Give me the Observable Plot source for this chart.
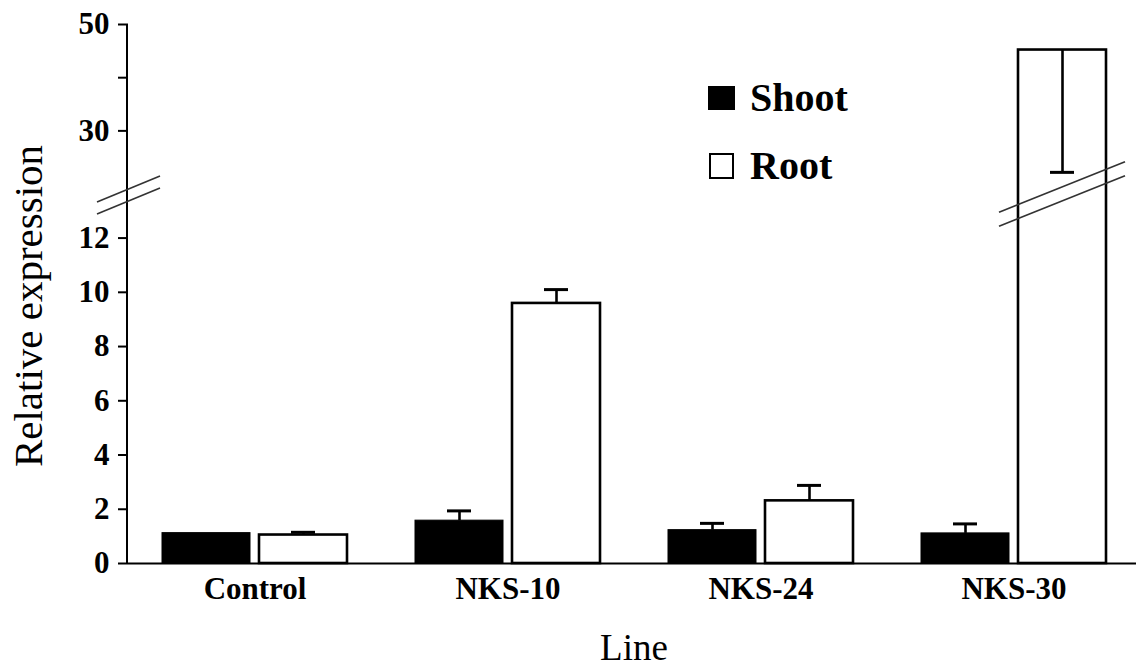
<!DOCTYPE html>
<html><head><meta charset="utf-8">
<script src="https://cdn.jsdelivr.net/npm/d3@7"></script>
<script src="https://cdn.jsdelivr.net/npm/@observablehq/plot@0.6"></script>
<style>
html,body{margin:0;padding:0;background:#fff;}
#chart{width:1136px;height:669px;position:relative;}
</style></head><body><div id="chart"></div>
<script>
// ---- data ----
const lines = ["Control", "NKS-10", "NKS-24", "NKS-30"];
const parts = ["Shoot", "Root"];
const shootValues = [1.12, 1.58, 1.23, 1.11];
const shootErrors = [0, 0.36, 0.25, 0.35];
const rootValues = [1.05, 9.59, 2.31, 45.2];
const rootErrors = [0.1, 0.51, 0.57, -23.0]; // NKS-30 error bar drawn downward
const yTicks = [0, 2, 4, 6, 8, 10, 12, 30, 40, 50];
const yLabeledTicks = [0, 2, 4, 6, 8, 10, 12, 30, 50];
const yBreak = [13.57, 17.85];
const yLabel = "Relative expression";
const xLabel = "Line";

const rows = lines.flatMap((line, i) => [
  {line, part: "Shoot", value: shootValues[i], err: shootErrors[i]},
  {line, part: "Root", value: rootValues[i], err: rootErrors[i]}
]);
const errRows = rows.filter(d => d.err !== 0);

const W = 1136, H = 669, ml = 127, mt = 24, mb = 106, breakPx = 195;
const font = "'Liberation Serif','Times New Roman',serif";

const plot = Plot.plot({
  width: W, height: H,
  marginLeft: ml, marginRight: 0, marginTop: mt, marginBottom: mb,
  style: {fontFamily: font, fontSize: "30px", color: "#000", background: "#fff", overflow: "visible"},
  fx: {domain: lines, range: [ml, ml + 4 * 253.4], padding: 0},
  x: {domain: parts, paddingInner: 0.093, paddingOuter: 0.35, axis: null},
  y: {type: "linear", domain: [0, yBreak[0], yBreak[1], 50], range: [H - mb, breakPx, breakPx, mt]},
  marks: [
    Plot.barY(rows.filter(d => d.part === "Shoot"), {fx: "line", x: "part", y: "value", fill: "#000", stroke: "#000", strokeWidth: 1}),
    Plot.barY(rows.filter(d => d.part === "Root"), {fx: "line", x: "part", y: "value", fill: "#fff", stroke: "#000", strokeWidth: 2.6}),
    Plot.ruleX(errRows, {fx: "line", x: "part", y1: "value", y2: d => d.value + d.err, strokeWidth: 2.6}),
    Plot.tickY(errRows, {fx: "line", x: "part", y: d => d.value + d.err, strokeWidth: 3, insetLeft: 32, insetRight: 32}),
    Plot.ruleY([0], {strokeWidth: 2}),
    Plot.axisY({ticks: yTicks, tickFormat: d => yLabeledTicks.includes(d) ? String(d) : "", tickSize: 10, tickPadding: 9, strokeWidth: 2, fontSize: 31, fontWeight: "bold", label: null}),
    Plot.axisFx({anchor: "bottom", tickSize: 0, tickPadding: 13, fontSize: 31, fontWeight: "bold", label: null})
  ]
});

// ---- decorations: axis line, axis breaks, legend, titles ----
const svg = d3.select(plot);
const ys = plot.scale("y"), fxs = plot.scale("fx"), xs = plot.scale("x");
const deco = svg.append("g").attr("fill", "none");
deco.append("line").attr("x1", ml).attr("x2", ml)
  .attr("y1", ys.apply(0)).attr("y2", ys.apply(50))
  .attr("stroke", "#000").attr("stroke-width", 2);

function breakMark(cx, cy, halfW, slope, gap) {
  for (const s of [-1, 1]) {
    deco.append("line")
      .attr("x1", cx - halfW).attr("y1", cy + slope * halfW + s * gap / 2)
      .attr("x2", cx + halfW).attr("y2", cy - slope * halfW + s * gap / 2)
      .attr("stroke", "#333").attr("stroke-width", 1.6);
  }
}
const cyBreak = ys.apply(yBreak[0]);
breakMark(ml + 1.5, cyBreak, 31.5, 0.413, 12);
const xStep = xs.apply("Root") - xs.apply("Shoot");
const barCx = fxs.apply("NKS-30") + fxs.bandwidth / 2 + xStep / 2;
breakMark(barCx, cyBreak - 1, 63, 0.40, 14);

// legend
const lg = svg.append("g").attr("text-anchor", "start");
lg.append("rect").attr("x", 708).attr("y", 86).attr("width", 27).attr("height", 24).attr("fill", "#000");
lg.append("rect").attr("x", 710).attr("y", 154).attr("width", 23).attr("height", 24).attr("fill", "#fff").attr("stroke", "#000").attr("stroke-width", 2);
lg.append("text").attr("x", 750).attr("y", 110.5).attr("text-anchor", "start").text(parts[0])
  .attr("font-size", 40).attr("font-weight", "bold").attr("font-family", font).attr("fill", "#000");
lg.append("text").attr("x", 750).attr("y", 178.5).attr("text-anchor", "start").text(parts[1])
  .attr("font-size", 40).attr("font-weight", "bold").attr("font-family", font).attr("fill", "#000");

// axis titles
svg.append("text").attr("transform", "translate(42,306) rotate(-90)").attr("text-anchor", "middle")
  .attr("font-size", 41).attr("font-family", font).attr("fill", "#000").text(yLabel);
svg.append("text").attr("x", 634).attr("y", 660).attr("text-anchor", "middle")
  .attr("font-size", 37).attr("font-family", font).attr("fill", "#000").text(xLabel);

document.getElementById("chart").appendChild(plot);
</script>
</body></html>
